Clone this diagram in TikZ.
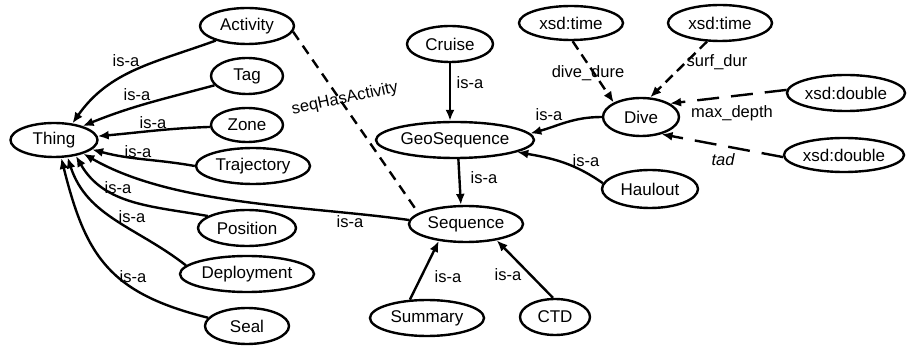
\documentclass[tikz,border=0pt]{standalone}
\usepackage{fontspec}
\setmainfont{Liberation Sans}
\usetikzlibrary{shapes.geometric,arrows.meta}
\begin{document}
\begin{tikzpicture}[x=1pt,y=1pt,
  cls/.style={ellipse, draw, line width=2.4pt, inner sep=0pt, font=\fontsize{17}{20}\selectfont, minimum height=36},
  rel/.style={-{Latex[length=11pt,width=9pt]}, line width=2.4pt},
  prop/.style={rel, dash pattern=on 10pt off 6pt},
  lprop/.style={rel, dash pattern=on 22pt off 12pt},
  lbl/.style={font=\fontsize{16.5}{19}\selectfont, inner sep=0pt}]
\useasboundingbox (0,0) rectangle (907,-347);
% nodes
\node[cls, minimum width=87, minimum height=34] (thing) at (54,-140) {Thing};
\node[cls, minimum width=94] (act) at (247,-26) {Activity};
\node[cls, minimum width=72] (tag) at (247,-76) {Tag};
\node[cls, minimum width=72, minimum height=34] (zone) at (247,-125) {Zone};
\node[cls, minimum width=114] (traj) at (253,-166) {Trajectory};
\node[cls, minimum width=98] (pos) at (247,-228) {Position};
\node[cls, minimum width=134] (dep) at (247,-274) {Deployment};
\node[cls, minimum width=84] (seal) at (247,-326) {Seal};
\node[cls, minimum width=86] (cruise) at (450,-44) {Cruise};
\node[cls, minimum width=104, minimum height=34] (t1) at (571,-23) {xsd:time};
\node[cls, minimum width=104] (t2) at (720,-23) {xsd:time};
\node[cls, minimum width=158] (geo) at (455,-140) {GeoSequence};
\node[cls, minimum width=76, minimum height=38] (dive) at (641,-117) {Dive};
\node[cls, minimum width=118] (d1) at (846,-93) {xsd:double};
\node[cls, minimum width=120, minimum height=34] (d2) at (844,-155) {xsd:double};
\node[cls, minimum width=96, minimum height=38] (haul) at (650,-189) {Haulout};
\node[cls, minimum width=114] (seq) at (466,-224) {Sequence};
\node[cls, minimum width=114] (sum) at (427,-318) {Summary};
\node[cls, minimum width=70] (ctd) at (555,-317) {CTD};
% is-a to Thing
\draw[rel] (act.205) to[out=200,in=55] (thing.42);
\draw[rel] (tag.196) to[out=195,in=22] (thing.26);
\draw[rel] (zone.183) to[out=182,in=5] (thing.5);
\draw[rel] (traj.180) to[out=170,in=-15] (thing.-14);
\draw[rel] (seq.176) to[out=172,in=-30,looseness=0.8] (thing.-25);
\draw[rel] (pos.163) to[out=170,in=-60] (thing.-36);
\draw[rel] (dep.172) to[out=142,in=-72] (thing.-52);
\draw[rel] (seal.168) to[out=166,in=-76,looseness=1.2] (thing.-68);
% other is-a
\draw[rel] (cruise.south) -- (geo.north -| cruise.south);
\draw[rel] (geo.-80) -- (seq.105);
\draw[rel] (dive.180) to[out=180,in=15] (geo.5);
\draw[rel] (haul.173) to[out=145,in=-10] (geo.-11);
\draw[rel] (sum.133) -- (seq.-148);
\draw[rel] (ctd.96) -- (seq.-28);
% properties
\draw[line width=2.4pt, dash pattern=on 10pt off 7pt] (act.-7) -- (seq.167);
\draw[prop] (t1.-85) -- (dive.152);
\draw[prop] (t2.-125) -- (dive.65);
\draw[lprop] (d1.177) -- (dive.25);
\draw[lprop] (d2.182) -- (dive.-40);
% labels
\node[lbl] (l1) at (126,-61) {is-a};
\node[lbl] (l2) at (137,-95) {is-a};
\node[lbl] (l3) at (153,-123) {is-a};
\node[lbl] (l4) at (138,-152) {is-a};
\node[lbl] (l5) at (118,-188) {is-a};
\node[lbl] (l6) at (132,-217) {is-a};
\node[lbl] (l7) at (133,-277) {is-a};
\node[lbl] (l8) at (350,-222) {is-a};
\node[lbl] (l9) at (470,-83) {is-a};
\node[lbl] (l10) at (484,-178) {is-a};
\node[lbl] (l11) at (549,-115) {is-a};
\node[lbl] (l12) at (586,-161) {is-a};
\node[lbl] (l13) at (448,-277) {is-a};
\node[lbl] (l14) at (508,-275) {is-a};
\node[lbl] (l15) at (588,-73) {dive\_dure};
\node[lbl] (l16) at (717,-62) {surf\_dur};
\node[lbl] (l17) at (732,-113) {max\_depth};
\node[lbl] (l18) at (723,-160) {\itshape tad};
\node[lbl, rotate=12] (l19) at (345,-99) {seqHasActivity};
\end{tikzpicture}
\end{document}
